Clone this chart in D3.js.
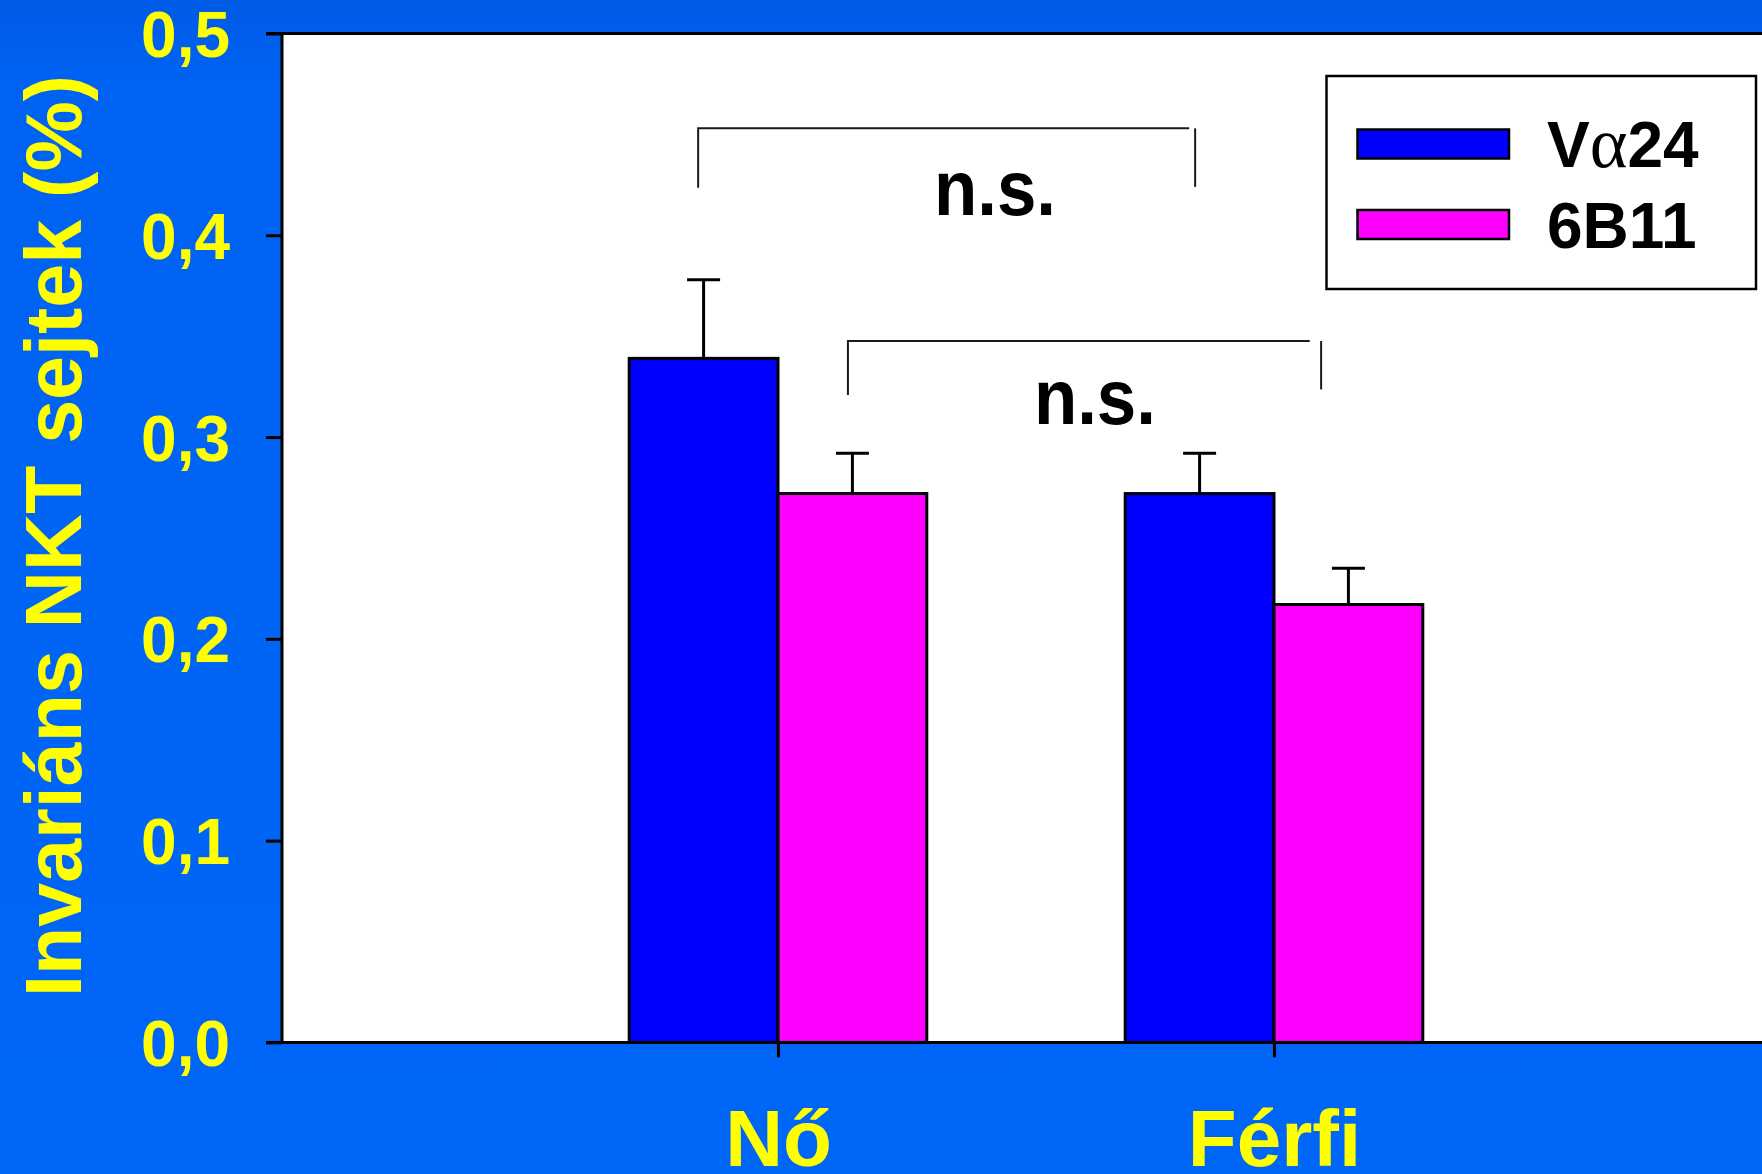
<!DOCTYPE html>
<html>
<head>
<meta charset="utf-8">
<script src="https://cdn.jsdelivr.net/npm/d3@7"></script>
<style>
  html, body { margin: 0; padding: 0; background: #0064f5; overflow: hidden; }
  svg { display: block; }
</style>
</head>
<body>
<svg id="chart" width="1762" height="1174"></svg>
<script>
// Invariant NKT cell frequencies by sex, two staining methods
const categories = ["Nő", "Férfi"];
const seriesNames = ["Vα24", "6B11"];
const seriesColors = ["#0000ff", "#ff00ff"];
const valuesVa24 = [0.339, 0.272];
const valuesB11 = [0.272, 0.217];
const errVa24 = [0.039, 0.020];
const errB11 = [0.020, 0.018];
const yTicks = [0, 0.1, 0.2, 0.3, 0.4, 0.5];
const yTitle = "Invariáns NKT sejtek (%)";

// significance brackets (x in category units, y in data units)
const bracketLeft = [0.839, 1.141];
const bracketRightLine = [1.829, 2.072];
const bracketRightLeg = [1.841, 2.095];
const bracketTop = [0.453, 0.3476];
const bracketLeftFoot = [0.4236, 0.3208];
const bracketRightFoot = [0.424, 0.3236];
const bracketLabels = ["n.s.", "n.s."];
const bracketLabelX = [1.4375, 1.639];
const bracketLabelY = [0.41, 0.3064];

const W = 1762, H = 1174;
const plot = { left: 282, top: 33.5, right: 1770, bottom: 1042.4 };
const FONT = "'Liberation Sans', Arial, Helvetica, sans-serif";
const YELLOW = "#ffff00";

const svg = d3.select("#chart");

// background with a slightly darker top strip
const defs = svg.append("defs");
const grad = defs.append("linearGradient").attr("id", "bg").attr("x1", 0).attr("y1", 0).attr("x2", 0).attr("y2", 1);
grad.append("stop").attr("offset", "0%").attr("stop-color", "#005ae6");
grad.append("stop").attr("offset", "6%").attr("stop-color", "#0062f2");
grad.append("stop").attr("offset", "100%").attr("stop-color", "#0066f8");
svg.append("rect").attr("width", W).attr("height", H).attr("fill", "url(#bg)");

const x = d3.scaleLinear().domain([0, 3]).range([plot.left, plot.right]);
const y = d3.scaleLinear().domain([0, 0.5]).range([plot.bottom, plot.top]);
const barW = 0.3; // in category units

// plot area
svg.append("rect")
  .attr("x", plot.left).attr("y", plot.top)
  .attr("width", plot.right - plot.left).attr("height", plot.bottom - plot.top)
  .attr("fill", "#ffffff");

// bars
const series = [valuesVa24, valuesB11];
const errs = [errVa24, errB11];
series.forEach((vals, s) => {
  const g = svg.append("g");
  const cx = i => x(i + 1 + (s === 0 ? -barW / 2 : barW / 2));
  // error bars first so the bar outline sits on top
  g.selectAll("line.err").data(vals).join("line")
    .attr("x1", (d, i) => cx(i)).attr("x2", (d, i) => cx(i))
    .attr("y1", d => y(d))
    .attr("y2", (d, i) => y(d + errs[s][i]))
    .attr("stroke", "#000").attr("stroke-width", 3);
  g.selectAll("line.cap").data(vals).join("line")
    .attr("x1", (d, i) => cx(i) - 16.5)
    .attr("x2", (d, i) => cx(i) + 16.5)
    .attr("y1", (d, i) => y(d + errs[s][i]))
    .attr("y2", (d, i) => y(d + errs[s][i]))
    .attr("stroke", "#000").attr("stroke-width", 3);
  g.selectAll("rect").data(vals).join("rect")
    .attr("x", (d, i) => x(i + 1 + (s === 0 ? -barW : 0)))
    .attr("width", (d, i) => x(i + 1 + barW) - x(i + 1))
    .attr("y", d => y(d))
    .attr("height", d => y(0) - y(d))
    .attr("fill", seriesColors[s])
    .attr("stroke", "#000").attr("stroke-width", 3);
});

// frame: top line, left axis line, baseline
svg.append("line").attr("x1", plot.left - 16).attr("x2", W)
  .attr("y1", plot.top).attr("y2", plot.top).attr("stroke", "#000").attr("stroke-width", 3);
svg.append("line").attr("x1", plot.left).attr("x2", plot.left)
  .attr("y1", plot.top).attr("y2", plot.bottom).attr("stroke", "#000").attr("stroke-width", 3);
svg.append("line").attr("x1", plot.left - 16).attr("x2", W)
  .attr("y1", plot.bottom).attr("y2", plot.bottom).attr("stroke", "#000").attr("stroke-width", 3);

// y axis
const yAxis = d3.axisLeft(y).tickValues(yTicks).tickSize(16).tickSizeOuter(0).tickPadding(36)
  .tickFormat(d => d3.format(".1f")(d).replace(".", ","));
const ya = svg.append("g").attr("transform", `translate(${plot.left},0)`).call(yAxis);
ya.select(".domain").remove();
ya.selectAll(".tick line").attr("stroke", "#000").attr("stroke-width", 3);
ya.selectAll(".tick text")
  .attr("fill", YELLOW).attr("font-family", FONT).attr("font-weight", "bold")
  .attr("font-size", 64).attr("dy", "0.36em");

// x axis
const xAxis = d3.axisBottom(x).tickValues([1, 2]).tickSize(15).tickSizeOuter(0).tickPadding(52)
  .tickFormat((d) => categories[d - 1]);
const xa = svg.append("g").attr("transform", `translate(0,${plot.bottom})`).call(xAxis);
xa.select(".domain").remove();
xa.selectAll(".tick line").attr("stroke", "#000").attr("stroke-width", 3);
xa.selectAll(".tick text")
  .attr("fill", YELLOW).attr("font-family", FONT).attr("font-weight", "bold")
  .attr("font-size", 80).attr("dy", "0.71em");

// y title
svg.append("text")
  .attr("transform", `translate(81,${536}) rotate(-90)`)
  .attr("text-anchor", "middle")
  .attr("fill", YELLOW).attr("font-family", FONT).attr("font-weight", "bold")
  .attr("font-size", 79)
  .text(yTitle);

// significance brackets
bracketLabels.forEach((lab, i) => {
  const g = svg.append("g").attr("stroke", "#1a1a1a").attr("stroke-width", 2).attr("fill", "none");
  g.append("path").attr("d", d3.line()([
    [x(bracketLeft[i]), y(bracketLeftFoot[i])],
    [x(bracketLeft[i]), y(bracketTop[i])],
    [x(bracketRightLine[i]), y(bracketTop[i])]
  ]));
  g.append("line")
    .attr("x1", x(bracketRightLeg[i])).attr("x2", x(bracketRightLeg[i]))
    .attr("y1", y(bracketTop[i])).attr("y2", y(bracketRightFoot[i]));
  svg.append("text")
    .attr("x", x(bracketLabelX[i])).attr("y", y(bracketLabelY[i]))
    .attr("text-anchor", "middle")
    .attr("font-family", FONT).attr("font-weight", "bold").attr("font-size", 78)
    .attr("textLength", 122).attr("lengthAdjust", "spacingAndGlyphs")
    .attr("fill", "#000")
    .text(lab);
});

// legend
const legend = svg.append("g");
legend.append("rect")
  .attr("x", 1326.5).attr("y", 76).attr("width", 429.5).attr("height", 213)
  .attr("fill", "#fff").attr("stroke", "#000").attr("stroke-width", 2.5);
const legY = [144, 224.5];
seriesNames.forEach((name, i) => {
  legend.append("rect")
    .attr("x", 1357.5).attr("y", legY[i] - 14.5).attr("width", 151.5).attr("height", 29)
    .attr("fill", seriesColors[i]).attr("stroke", "#000").attr("stroke-width", 2.5);
  const t = legend.append("text")
    .attr("x", 1547).attr("y", legY[i] + 23)
    .attr("font-family", FONT).attr("font-weight", "bold").attr("font-size", 64)
    .attr("fill", "#000");
  if (name.includes("α")) {
    const parts = name.split("α");
    t.append("tspan").text(parts[0]);
    t.append("tspan").attr("font-family", "'Liberation Serif', 'Times New Roman', serif")
      .attr("font-weight", "normal").attr("font-size", 72).text("α");
    t.append("tspan").text(parts[1]);
  } else {
    t.text(name);
  }
});
</script>
</body>
</html>
